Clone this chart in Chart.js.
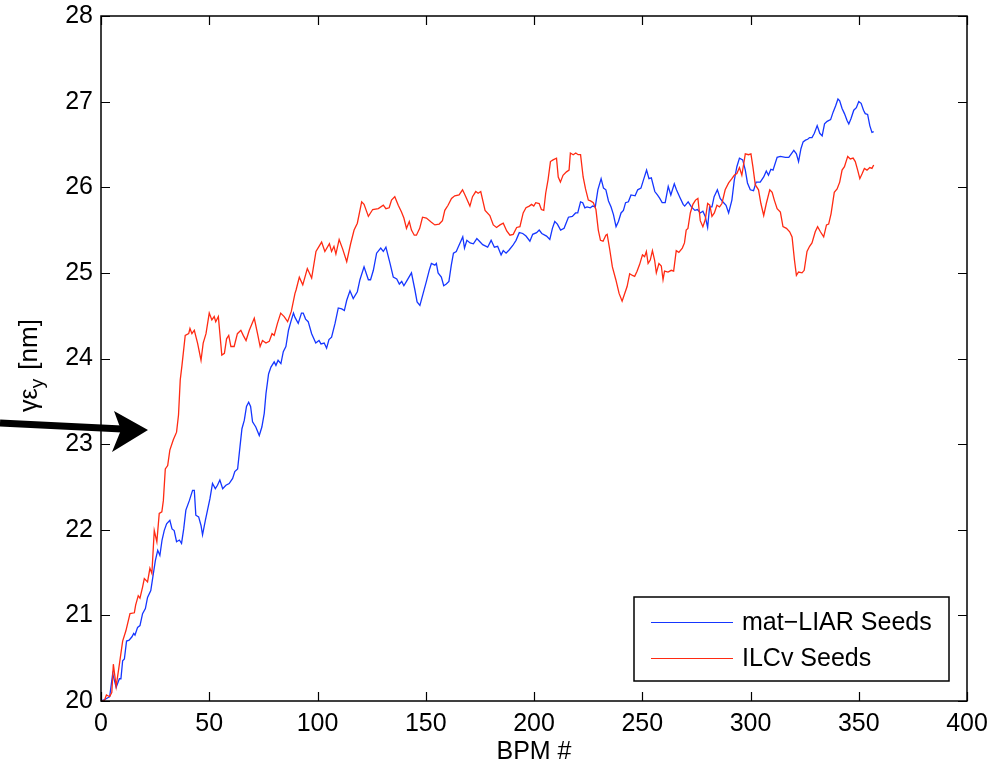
<!DOCTYPE html>
<html>
<head>
<meta charset="utf-8">
<script src="https://cdn.jsdelivr.net/npm/chart.js@4/dist/chart.umd.min.js"></script>
<style>
html,body{margin:0;padding:0;background:#fff;}
#wrap{width:1008px;height:767px;position:relative;}
</style>
</head>
<body>
<div id="wrap"><canvas id="c" width="1008" height="767"></canvas></div>
<script>
// ---- Data ----
const seriesNames = ['mat\u2212LIAR Seeds', 'ILCv Seeds'];
const xTicks = [0, 50, 100, 150, 200, 250, 300, 350, 400];
const yTicks = [20, 21, 22, 23, 24, 25, 26, 27, 28];

const bpmBlue = [0,2,4,5.4,7,8.5,9.2,10,10.8,11.8,13,14.3,15.1,15.7,16.9,18,19.2,20.5,21.5,23,24.2,25.1,26.2,27.2,28.2,29.2,30.3,31.8,32.8,33.8,34.9,36.2,37.2,38.2,39.2,40.8,42.3,43.1,43.8,45.1,46.2,46.9,48.2,49.2,50.3,51.5,52.8,53.8,54.9,56.2,57.7,59.2,60.8,61.8,63.1,64.2,65.1,66.2,67.2,68.2,69.1,70,71.5,73.1,74.3,75.4,76.2,77.4,78.5,80,80.8,81.8,83.1,84.2,85.4,86.6,87.7,88.9,89.6,91.1,92.6,93.4,94.5,95.7,97.3,99.2,100.7,101.6,103.1,104.2,105.3,106.5,108.1,109.6,111.2,112.4,113.5,115,116.5,118.4,119.6,121.5,123.5,124.5,125.8,127.3,129.2,130.4,131.6,133.5,135,136.6,137.8,138.9,139.9,141.1,143.4,145,146,147.3,148.8,150.3,151.6,152.6,154.2,154.9,155.7,157.2,158.3,159.5,160.7,161.8,162.8,164.1,164.8,166.4,167.1,167.9,169,170.5,172,173.6,174.8,176.3,178.6,180.2,181.7,183.2,184.8,185.8,187.1,188.6,190.2,191.7,193.2,194.8,196.3,198.1,199.4,201.2,202.4,203.6,205.8,207.3,208.5,209.6,210.8,212.3,213.9,215.9,217.7,219.2,220.2,221.5,222.5,223.5,224.5,226,227.1,228.3,229.5,231,232.1,233.2,234.4,235.6,236.7,237.9,239,240.2,241.3,242.3,243.6,244.8,246.7,247.9,249.4,250.5,252,253.1,254.2,255.8,257,258.1,259.2,260.6,262,263.2,264.8,265.8,267.4,268.9,269.6,271.2,272.7,274.3,275.5,276.8,278,279.1,280.2,281.1,282.2,283.2,284.7,286,287.2,288.7,289.9,291.4,292.5,293.7,294.9,296.4,297.6,298.6,299.9,301.4,302.6,304.5,306.1,307.3,308.3,309.4,310.4,312.3,313.8,316.1,317.7,320,321.2,322.2,323.3,324.3,325.4,326.4,327.3,328.4,329.5,330.8,332,333.1,334.2,335.4,337,338.2,339.3,340.4,341.2,342.3,343.4,344.6,345.4,346.4,347.7,348.9,350,351.1,352.2,353,354.1,355.1,356.1,356.9];
const valBlue = [20.0,20.02,20.05,20.32,20.16,20.26,20.26,20.47,20.49,20.7,20.71,20.75,20.79,20.77,20.86,20.88,21.02,21.08,21.21,21.29,21.49,21.64,21.76,21.7,21.88,21.99,22.07,22.11,22.01,21.99,21.86,21.88,21.84,22.01,22.23,22.34,22.46,22.46,22.17,22.15,22.05,21.94,22.11,22.23,22.36,22.54,22.48,22.52,22.58,22.48,22.52,22.54,22.6,22.68,22.71,22.97,23.18,23.28,23.44,23.49,23.44,23.26,23.2,23.1,23.2,23.36,23.59,23.82,23.9,23.96,23.92,23.98,23.94,24.08,24.14,24.33,24.43,24.53,24.48,24.41,24.53,24.53,24.46,24.43,24.29,24.18,24.21,24.17,24.18,24.12,24.22,24.25,24.41,24.59,24.58,24.56,24.68,24.79,24.7,24.78,24.92,25.07,24.92,24.92,25.03,25.23,25.29,25.25,25.3,25.11,24.95,24.93,24.87,24.9,24.85,24.9,25.0,24.8,24.66,24.62,24.76,24.9,25.03,25.11,25.09,25.11,25.0,24.95,24.85,24.87,24.9,25.09,25.23,25.25,25.29,25.38,25.42,25.29,25.38,25.35,25.34,25.4,25.37,25.33,25.3,25.38,25.3,25.31,25.21,25.26,25.23,25.27,25.32,25.38,25.47,25.46,25.43,25.37,25.45,25.47,25.5,25.46,25.43,25.39,25.52,25.6,25.57,25.5,25.52,25.65,25.66,25.7,25.7,25.83,25.82,25.76,25.77,25.76,25.78,25.77,25.97,26.1,25.99,25.97,25.84,25.77,25.68,25.54,25.6,25.7,25.73,25.82,25.83,25.91,25.9,25.97,25.99,26.08,26.2,26.1,26.11,25.95,25.91,25.87,25.82,25.82,26.01,25.91,26.04,25.97,25.88,25.8,25.78,25.83,25.77,25.73,25.74,25.7,25.72,25.66,25.53,25.77,25.77,25.89,25.97,25.87,25.83,25.79,25.7,25.85,26.08,26.24,26.34,26.32,26.2,26.05,25.97,25.96,26.06,26.06,26.12,26.19,26.14,26.21,26.2,26.35,26.36,26.35,26.35,26.43,26.39,26.3,26.45,26.53,26.55,26.56,26.58,26.58,26.63,26.72,26.63,26.6,26.74,26.77,26.79,26.88,26.95,27.03,27.01,26.92,26.86,26.78,26.74,26.8,26.9,26.93,27.0,26.98,26.9,26.86,26.85,26.72,26.64,26.65];

const bpmRed = [0,1.5,2.5,4,5,5.7,7,8.5,10,11.5,13.4,15.4,16,17.2,18,19.2,20,21.5,22.6,23.5,24.6,25.8,26.9,28.1,28.8,29.7,30.8,31.8,33.4,34.9,35.8,36.6,37.4,38.9,40.5,41.1,42,43.1,44.6,46.2,47.2,48.5,50,51.2,52.3,53,54.2,55.8,57,58,59,60,61.5,63,64.6,65.7,67,68.5,70.8,72.3,73.5,74.6,76.2,77.7,79,80,81.5,83,84.6,86.2,87.9,89.6,90.1,91.6,93.2,95.3,97.3,99.3,101.9,103.4,105.5,106.5,107.6,108.5,110,111.6,113.5,115.3,116.9,118.4,120.4,121.5,123.5,125.5,128.1,130.4,131.6,133.1,134.2,135.7,137.3,138.8,139.9,141.1,142.4,143.4,144.7,145.7,147.2,148.5,150.3,152.6,154.2,156.2,157.7,158.8,160.3,161.9,163.4,165.4,167,168.5,170.4,171.6,173.1,174.2,175.4,177.4,179.6,181.2,182.7,184.3,185.8,187.4,188.9,190.4,192,193.5,195,196.3,197.8,198.9,199.9,200.8,202.4,203.4,204.5,205.4,206.5,207.6,208.8,210.4,211.2,212.2,213.4,215,216.2,216.8,218.1,219.3,220.4,221.5,222.7,223.8,225.1,226.1,227.4,228.6,229.7,230.7,231.9,233.2,233.8,235,236.2,237.8,239.3,240.7,241.9,243,244.2,245.5,246.5,247.6,248.8,250.1,251.1,251.9,252.7,253.7,254.7,255.7,256.5,257.7,258.8,259.6,260.3,261.9,263.4,264.5,265.7,266.9,268.5,269.5,270.3,271.1,272.2,273.4,274.6,275.7,276.8,278,279.1,280.2,281.2,282.2,283.3,284.5,285.7,286.8,288.3,289.9,291.4,292.5,293.7,294.9,296,297.6,299.1,300.2,301.1,302.2,303.7,304.8,306.1,307.3,308.9,310,311,312.3,313.8,315,316.6,318.1,319.2,320.3,321.2,322.2,323.8,324.8,326.1,327.3,328.4,329.9,331,332.3,333.8,335.1,336.1,337.2,338.7,340,341.2,342.3,343.4,344.9,346.1,347.4,348.4,349.5,350.5,351.6,352.6,353.8,355.1,356.1,356.9];
const valRed = [20.0,20.0,20.07,20.05,20.1,20.43,20.17,20.43,20.7,20.82,21.02,21.03,21.12,21.23,21.2,21.33,21.43,21.39,21.55,21.49,21.99,21.86,22.19,22.21,22.34,22.71,22.75,22.93,23.05,23.14,23.34,23.75,23.92,24.27,24.29,24.35,24.29,24.33,24.18,23.98,24.18,24.29,24.53,24.45,24.49,24.43,24.49,24.04,24.06,24.23,24.27,24.14,24.14,24.29,24.33,24.27,24.21,24.33,24.47,24.29,24.14,24.21,24.18,24.2,24.29,24.27,24.41,24.53,24.49,24.43,24.55,24.76,24.8,24.95,24.86,25.05,24.94,25.25,25.36,25.25,25.34,25.25,25.31,25.22,25.39,25.28,25.13,25.34,25.5,25.58,25.83,25.8,25.66,25.74,25.75,25.79,25.75,25.76,25.85,25.89,25.79,25.71,25.64,25.52,25.6,25.5,25.44,25.44,25.52,25.65,25.64,25.59,25.56,25.57,25.61,25.73,25.79,25.87,25.9,25.91,25.97,25.89,25.78,25.89,25.95,25.93,25.95,25.73,25.67,25.56,25.53,25.56,25.58,25.49,25.44,25.45,25.53,25.54,25.7,25.76,25.78,25.8,25.78,25.82,25.81,25.74,25.73,25.93,26.09,26.3,26.32,26.34,26.12,26.06,26.14,26.18,26.2,26.4,26.38,26.4,26.38,26.38,26.12,25.98,25.85,25.84,25.82,25.74,25.5,25.38,25.37,25.44,25.45,25.27,25.07,24.92,24.76,24.67,24.76,24.84,24.99,24.97,24.96,25.02,25.1,25.21,25.19,25.25,25.11,25.15,25.26,25.15,25.0,25.11,25.08,24.92,25.02,25.01,25.03,25.02,25.26,25.24,25.29,25.35,25.5,25.52,25.7,25.8,25.85,25.87,25.61,25.54,25.62,25.81,25.79,25.66,25.7,25.79,25.77,25.81,25.97,26.05,26.1,26.14,26.16,26.23,26.14,26.39,26.38,26.39,26.24,26.03,25.97,25.81,25.67,25.81,25.97,25.94,25.85,25.75,25.71,25.54,25.52,25.48,25.42,25.15,24.97,25.01,25.0,25.03,25.25,25.31,25.35,25.48,25.54,25.48,25.42,25.56,25.57,25.69,25.94,25.98,26.06,26.2,26.24,26.36,26.33,26.34,26.3,26.2,26.1,26.16,26.22,26.2,26.23,26.22,26.26];

const colorBlue = '#1536ff';
const colorRed = '#ff2a12';
const FONT = '"Liberation Sans", Arial, Helvetica, sans-serif';

const toPts = (xs, ys) => xs.map((x, i) => ({x: x, y: ys[i]}));

const framePlugin = {
  id: 'frame',
  afterDraw(chart) {
    const ctx = chart.ctx;
    const a = chart.chartArea;
    const sx = chart.scales.x, sy = chart.scales.y;
    ctx.save();
    // box
    ctx.strokeStyle = '#000';
    ctx.lineWidth = 1.5;
    ctx.strokeRect(a.left, a.top, a.right - a.left, a.bottom - a.top);
    // inward ticks
    const tl = 9;
    ctx.lineWidth = 1.2;
    ctx.beginPath();
    xTicks.forEach(v => {
      const p = Math.round(sx.getPixelForValue(v)) + 0.5;
      ctx.moveTo(p, a.bottom); ctx.lineTo(p, a.bottom - tl);
      ctx.moveTo(p, a.top); ctx.lineTo(p, a.top + tl);
    });
    yTicks.forEach(v => {
      const p = Math.round(sy.getPixelForValue(v)) + 0.5;
      ctx.moveTo(a.left, p); ctx.lineTo(a.left + tl, p);
      ctx.moveTo(a.right, p); ctx.lineTo(a.right - tl, p);
    });
    ctx.stroke();

    // legend
    const lx = 634, ly = 597, lw = 315, lh = 84;
    ctx.fillStyle = '#fff';
    ctx.fillRect(lx, ly, lw, lh);
    ctx.lineWidth = 1.5;
    ctx.strokeStyle = '#000';
    ctx.strokeRect(lx, ly, lw, lh);
    const entries = [[seriesNames[0], colorBlue, 622], [seriesNames[1], colorRed, 658]];
    ctx.font = '25px ' + FONT;
    ctx.textBaseline = 'middle';
    ctx.textAlign = 'left';
    entries.forEach(e => {
      ctx.strokeStyle = e[1];
      ctx.lineWidth = 1.2;
      ctx.beginPath();
      ctx.moveTo(651, e[2] + 0.5); ctx.lineTo(733, e[2] + 0.5);
      ctx.stroke();
      ctx.fillStyle = '#000';
      ctx.fillText(e[0], 742, e[2] + 1);
    });

    // y axis title: γε_y [nm], rotated
    ctx.save();
    ctx.rotate(-Math.PI / 2);
    ctx.fillStyle = '#000';
    ctx.textBaseline = 'alphabetic';
    ctx.textAlign = 'left';
    let pos = -412;
    const base = 37;
    ctx.font = '25px ' + FONT;
    ctx.fillText('\u03B3\u03B5', pos, base);
    pos += ctx.measureText('\u03B3\u03B5').width;
    ctx.font = '19px ' + FONT;
    ctx.fillText('y', pos, base + 6);
    pos += ctx.measureText('y').width + 2;
    ctx.font = '26px ' + FONT;
    ctx.fillText(' [nm]', pos, base);
    ctx.restore();

    // annotation arrow
    ctx.fillStyle = '#000';
    ctx.strokeStyle = '#000';
    ctx.lineWidth = 7;
    ctx.beginPath();
    ctx.moveTo(0, 423); ctx.lineTo(122, 429);
    ctx.stroke();
    ctx.beginPath();
    ctx.moveTo(114, 411);
    ctx.lineTo(148, 430);
    ctx.lineTo(112, 452);
    ctx.lineTo(121, 430);
    ctx.closePath();
    ctx.fill();
    ctx.restore();
  }
};

new Chart(document.getElementById('c'), {
  type: 'line',
  data: {
    datasets: [
      { label: seriesNames[0], data: toPts(bpmBlue, valBlue), borderColor: colorBlue, borderWidth: 1.3, pointRadius: 0, fill: false, tension: 0, order: 1 },
      { label: seriesNames[1], data: toPts(bpmRed, valRed), borderColor: colorRed, borderWidth: 1.3, pointRadius: 0, fill: false, tension: 0, order: 0 }
    ]
  },
  options: {
    responsive: false,
    animation: false,
    layout: { padding: { top: 16, right: 41, left: 0, bottom: 0 } },
    plugins: { legend: { display: false }, tooltip: { enabled: false } },
    scales: {
      x: {
        type: 'linear', min: 0, max: 400,
        afterBuildTicks: s => { s.ticks = xTicks.map(v => ({value: v})); },
        afterFit: s => { s.height = 66; s.paddingLeft = 0; s.paddingRight = 0; },
        grid: { display: false, drawTicks: false },
        border: { display: false },
        ticks: { color: '#000', font: { family: FONT, size: 25 }, padding: 8, maxRotation: 0 },
        title: { display: true, text: 'BPM #', color: '#000', font: { family: FONT, size: 25 }, padding: { top: 0, bottom: 0 } }
      },
      y: {
        type: 'linear', min: 20, max: 28,
        afterBuildTicks: s => { s.ticks = yTicks.map(v => ({value: v})); },
        afterFit: s => { s.width = 101; s.paddingTop = 0; s.paddingBottom = 0; },
        grid: { display: false, drawTicks: false },
        border: { display: false },
        ticks: { color: '#000', font: { family: FONT, size: 25 }, padding: 8 }
      }
    }
  },
  plugins: [framePlugin]
});
</script>
</body>
</html>
